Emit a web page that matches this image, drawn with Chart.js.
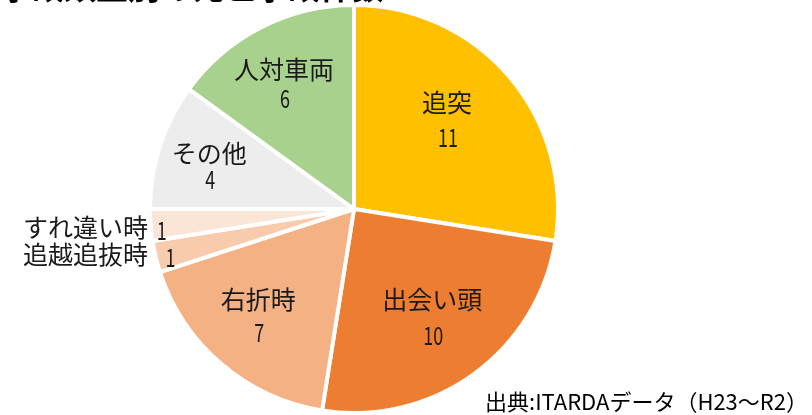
<!DOCTYPE html>
<html>
<head>
<meta charset="utf-8">
<script src="https://cdn.jsdelivr.net/npm/chart.js@4"></script>
<style>
  body { margin: 0; background: #fff; }
</style>
</head>
<body>
<canvas id="pie-chart" width="812" height="415"></canvas>
<script>
const categories = ["追突", "出会い頭", "右折時", "追越追抜時", "すれ違い時", "その他", "人対車両"];
const counts = [11, 10, 7, 1, 1, 4, 6];
const sliceColors = ["#FFC000", "#ED7D31", "#F4B183", "#F8CBAD", "#FBE5D6", "#EDEDED", "#A9D18E"];
const titleText = "事故類型別の死亡事故件数";
const sourceText = "出典:ITARDAデータ（H23〜R2）";

// label placement: share of the radius, then a small nudge (null = outside label)
const labelRadius = [0.6, 0.66, 0.7, null, null, 0.73, 0.69];
const labelNudge = [[0, -10], [-1, 0], [-3, -2], [1, 4], [-3, 7], [-3, 4], [-6, 0]];
const valueGap = [35, 36, 33, 0, 0, 26, 29];

const FONT = '"Noto Sans CJK JP", "Noto Sans", sans-serif';

function drawNumber(ctx, text, x, y) {
  ctx.save();
  ctx.translate(x, y);
  ctx.scale(0.72, 1);
  ctx.font = `25px ${FONT}`;
  ctx.textAlign = "center";
  ctx.textBaseline = "middle";
  ctx.fillText(text, 0, 0);
  ctx.restore();
}

const sliceLabels = {
  id: "sliceLabels",
  afterDatasetsDraw(chart) {
    const ctx = chart.ctx;
    const arcs = chart.getDatasetMeta(0).data;
    ctx.save();
    ctx.fillStyle = "#1a1a1a";
    arcs.forEach((arc, i) => {
      const { x, y, startAngle, endAngle, outerRadius } =
        arc.getProps(["x", "y", "startAngle", "endAngle", "outerRadius"], true);
      const mid = (startAngle + endAngle) / 2;
      const ratio = labelRadius[i];
      const [nx, ny] = labelNudge[i];
      if (ratio) {
        const cx = x + Math.cos(mid) * outerRadius * ratio + nx;
        const cy = y + Math.sin(mid) * outerRadius * ratio + ny;
        ctx.font = `25px ${FONT}`;
        ctx.textAlign = "center";
        ctx.textBaseline = "middle";
        ctx.fillText(categories[i], cx, cy - valueGap[i] / 2);
        drawNumber(ctx, String(counts[i]), cx + 1, cy + valueGap[i] / 2);
      } else {
        const vx = x + Math.cos(mid) * outerRadius * 0.93 + nx;
        const vy = y + Math.sin(mid) * outerRadius * 0.93 + ny;
        drawNumber(ctx, String(counts[i]), vx, vy);
        ctx.font = `25px ${FONT}`;
        ctx.textAlign = "right";
        ctx.textBaseline = "middle";
        ctx.fillText(categories[i], x - outerRadius - 2, vy - 3);
      }
    });

    // title (cut by the top edge) and source note
    ctx.fillStyle = "#000";
    ctx.font = `bold 32px ${FONT}`;
    ctx.textAlign = "left";
    ctx.textBaseline = "bottom";
    ctx.fillText(titleText, 0, 3);

    ctx.font = `22px ${FONT}`;
    ctx.textAlign = "right";
    ctx.textBaseline = "middle";
    ctx.fillText(sourceText, 808, 402);
    ctx.restore();
  }
};

new Chart(document.getElementById("pie-chart"), {
  type: "pie",
  data: {
    labels: categories,
    datasets: [
      {
        data: counts,
        backgroundColor: sliceColors,
        borderColor: "#fff",
        borderWidth: 4,
      },
    ],
  },
  options: {
    responsive: false,
    animation: false,
    layout: {
      padding: { top: 3, bottom: 0, left: 148, right: 252 },
    },
    plugins: {
      legend: { display: false },
      tooltip: { enabled: false },
    },
  },
  plugins: [sliceLabels],
});
</script>
</body>
</html>
